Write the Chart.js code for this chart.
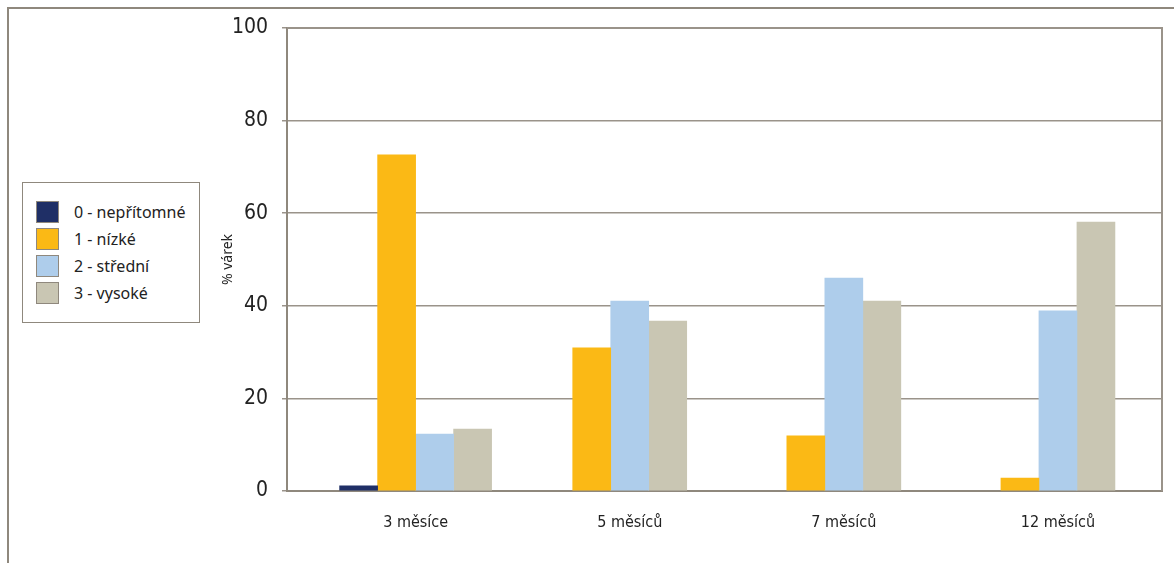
<!DOCTYPE html>
<html lang="cs">
<head>
    <meta charset="UTF-8">
    <title>% várek</title>
    <script src="https://cdn.jsdelivr.net/npm/chart.js@4.4.0/dist/chart.umd.min.js"></script>
    <style>
        body {
            margin: 0;
            background: #fff;
            font-family: 'Noto Sans', sans-serif;
        }

        .page {
            position: relative;
            width: 1174px;
            height: 563px;
            overflow: hidden;
        }

        .frame {
            position: absolute;
            left: 7px;
            top: 7px;
            width: 1300px;
            height: 700px;
            border-left: 2px solid #8f887d;
            border-top: 2px solid #8f887d;
        }

        canvas {
            position: absolute;
            left: 0;
            top: 0;
        }

        .legend {
            position: absolute;
            left: 22px;
            top: 182px;
            width: 176px;
            height: 139px;
            border: 1.5px solid #8f887d;
            background: #fff;
        }

        .legend-item {
            position: absolute;
            left: 13px;
            height: 22px;
            display: flex;
            align-items: center;
            font-size: 16px;
            color: #222;
        }

        .legend-item span.box {
            width: 21px;
            height: 20px;
            border: 1px solid #8f887d;
            margin-right: 15px;
        }
    </style>
</head>
<body>
<div class="page">
    <div class="frame"></div>
    <canvas id="chart" width="1174" height="563"></canvas>
    <div class="legend" id="legend"></div>
</div>

<script>
    const categories = ['3 měsíce', '5 měsíců', '7 měsíců', '12 měsíců'];
    const seriesNames = ['0 - nepřítomné', '1 - nízké', '2 - střední', '3 - vysoké'];
    const seriesColors = ['#1f2f66', '#fbb915', '#aecdeb', '#c9c6b3'];

    // null = žádný sloupec v dané skupině
    const absent = [1.1, null, null, null];
    const low = [72.6, 30.9, 11.9, 2.8];
    const medium = [12.3, 41.0, 46.0, 38.9];
    const high = [13.4, 36.7, 41.0, 58.1];

    const yTicks = [0, 20, 40, 60, 80, 100];

    const seriesValues = [absent, low, medium, high];
    const catIndex = categories.map((c, i) => i);

    // legenda
    const legend = document.getElementById('legend');
    seriesNames.forEach((name, i) => {
        const item = document.createElement('div');
        item.className = 'legend-item';
        item.style.top = (18 + i * 27) + 'px';
        item.innerHTML = `<span class="box" style="background:${seriesColors[i]}"></span>${name}`;
        legend.appendChild(item);
    });

    const frameLines = {
        id: 'frameLines',
        beforeDatasetsDraw(chart) {
            const a = chart.chartArea;
            const ctx = chart.ctx;
            ctx.save();
            ctx.strokeStyle = '#9a938a';
            ctx.lineWidth = 2;
            ctx.beginPath();
            ctx.moveTo(a.left, a.top);
            ctx.lineTo(a.right, a.top);
            ctx.lineTo(a.right, a.bottom);
            ctx.stroke();
            ctx.restore();
        }
    };

    const datasets = seriesNames.map((name, s) => ({
        label: name,
        data: catIndex.map(i => ({ x: i, y: seriesValues[s][i] })),
        backgroundColor: seriesColors[s],
        borderWidth: 0,
        barThickness: 38
    }));

    const ctx = document.getElementById('chart').getContext('2d');
    new Chart(ctx, {
        type: 'bar',
        data: { datasets },
        plugins: [frameLines],
        options: {
            responsive: false,
            animation: false,
            skipNull: true,
            layout: {
                padding: { left: 215, right: 12, top: 28, bottom: 0 }
            },
            plugins: {
                legend: { display: false },
                tooltip: { enabled: false }
            },
            scales: {
                x: {
                    type: 'linear',
                    offset: false,
                    min: -0.6007,
                    max: 3.486,
                    afterBuildTicks(scale) {
                        scale.ticks = catIndex.map(v => ({ value: v }));
                    },
                    afterFit(scale) {
                        scale.height = 72;
                    },
                    ticks: {
                        autoSkip: false,
                        maxRotation: 0,
                        padding: 22,
                        color: '#222',
                        font: { family: "'Liberation Sans Narrow', 'DejaVu Sans Condensed', sans-serif", size: 16 },
                        callback: v => categories[v]
                    },
                    grid: { display: false, drawTicks: false },
                    border: { display: true, color: '#8f887d', width: 2 }
                },
                y: {
                    min: 0,
                    max: 100,
                    afterBuildTicks(scale) {
                        scale.ticks = yTicks.map(v => ({ value: v }));
                    },
                    afterFit(scale) {
                        scale.width = 72;
                    },
                    ticks: {
                        padding: 14,
                        color: '#222',
                        font: { family: "'Liberation Sans Narrow', 'DejaVu Sans Condensed', sans-serif", size: 21 }
                    },
                    grid: {
                        color: '#9a938a',
                        lineWidth: 1.5,
                        tickLength: 5,
                        drawTicks: true
                    },
                    border: { display: true, color: '#8f887d', width: 2 },
                    title: {
                        display: true,
                        text: '% várek',
                        color: '#222',
                        padding: { top: 5, bottom: 0 },
                        font: { family: "'Noto Sans', sans-serif", size: 14 }
                    }
                }
            }
        }
    });
</script>
</body>
</html>
